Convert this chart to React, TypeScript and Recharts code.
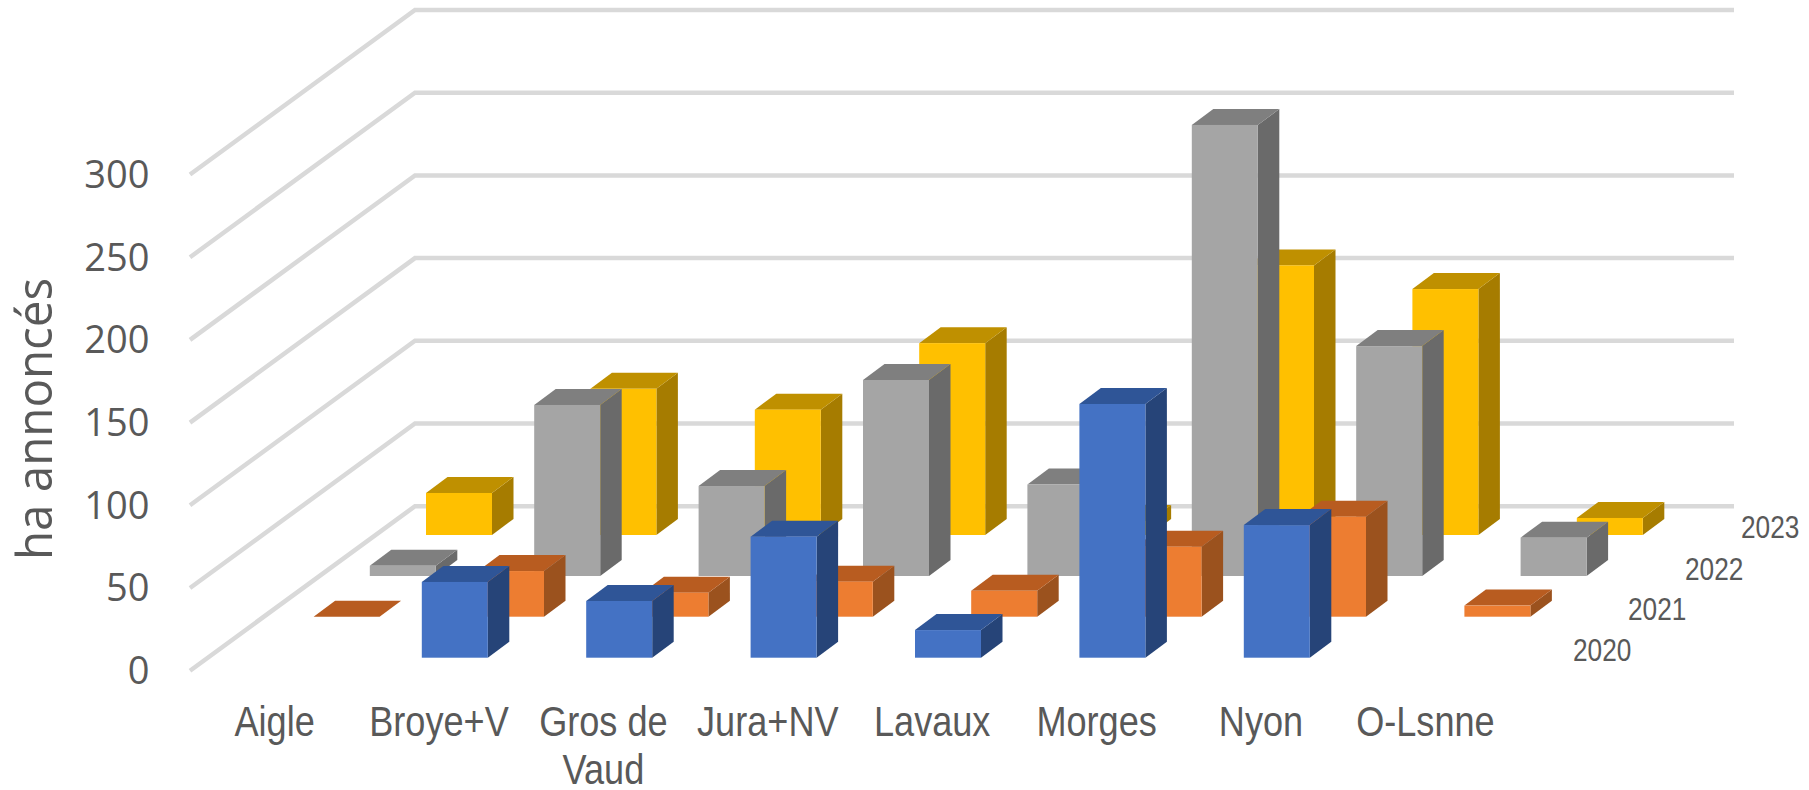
import { BarChart, Bar, XAxis, YAxis, CartesianGrid } from 'recharts';

const categories = ['Aigle', 'Broye+V', 'Gros de Vaud', 'Jura+NV', 'Lavaux', 'Morges', 'Nyon', 'O-Lsnne'];
const values2020 = [null, 45.8, 34.3, 73.2, 16.7, 153.4, 80.2, null];
const values2021 = [0, 27.6, 14.5, 21.2, 15.7, 42.3, 60.5, 6.7];
const values2022 = [6.2, 103.4, 54.4, 118.5, 55.3, 272.7, 139, 23.2];
const values2023 = [25.4, 88.4, 75.8, 116, 8.5, 163, 148.7, 10.3];
const yTicks = [0, 50, 100, 150, 200, 250, 300];

const data = categories.map((name, i) => ({
  name,
  y2020: values2020[i],
  y2021: values2021[i],
  y2022: values2022[i],
  y2023: values2023[i],
}));

// each year is a row further back on the floor of the 3D chart
const rows = [
  { key: 'y2020', label: '2020', dx: 0, dy: -13, labelX: 1573, labelY: 661, face: '#4472C4', top: '#2F5597', side: '#264478' },
  { key: 'y2021', label: '2021', dx: 56.2, dy: -54, labelX: 1628, labelY: 620, face: '#ED7D31', top: '#B85C20', side: '#9B521E' },
  { key: 'y2022', label: '2022', dx: 112.4, dy: -94.7, labelX: 1685, labelY: 580, face: '#A5A5A5', top: '#7F7F7F', side: '#6A6A6A' },
  { key: 'y2023', label: '2023', dx: 168.6, dy: -135.7, labelX: 1741, labelY: 538, face: '#FFC000', top: '#BF9000', side: '#A67C00' },
];

const BAR_W = 66;
const DEPTH_X = 21.5;
const DEPTH_Y = 16;
const WALL_X = 225;
const WALL_Y = 164.5;
const FRONT_X = 190;
const WALL_END = 1734;
const NARROW = 0.86; // no narrow font installed, so squeeze Liberation Sans

const makeBox = (row: (typeof rows)[number]) => (props: any) => {
  const { x, y, width, height, payload } = props;
  if (payload[row.key] == null) return <g />;
  const l = x + row.dx;
  const r = l + width;
  const t = y + row.dy;
  const b = t + height;
  return (
    <g>
      <polygon
        points={`${r},${t} ${r + DEPTH_X},${t - DEPTH_Y} ${r + DEPTH_X},${b - DEPTH_Y} ${r},${b}`}
        fill={row.side}
      />
      <polygon
        points={`${l},${t} ${l + DEPTH_X},${t - DEPTH_Y} ${r + DEPTH_X},${t - DEPTH_Y} ${r},${t}`}
        fill={row.top}
      />
      <rect x={l} y={t} width={width} height={height} fill={row.face} />
    </g>
  );
};

const gridLine = (props: any) => {
  const { y1, key } = props;
  return (
    <polyline
      key={key}
      points={`${FRONT_X},${y1} ${FRONT_X + WALL_X},${y1 - WALL_Y} ${WALL_END},${y1 - WALL_Y}`}
      fill="none"
      stroke="#D9D9D9"
      strokeWidth={4.5}
    />
  );
};

const CategoryTick = ({ x, payload }: any) => {
  const lines = payload.value === 'Gros de Vaud' ? ['Gros de', 'Vaud'] : [payload.value];
  return (
    <text
      transform={`translate(${x - 16},0) scale(${NARROW},1)`}
      textAnchor="middle"
      fontFamily="'Liberation Sans', sans-serif"
      fontSize={42}
      fill="#595959"
    >
      {lines.map((line: string, i: number) => (
        <tspan key={line} x={0} y={736 + i * 48}>
          {line}
        </tspan>
      ))}
    </text>
  );
};

export default function App() {
  return (
    <div style={{ position: 'absolute', left: 0, top: 0 }}>
      <BarChart
        width={1809}
        height={790}
        data={data}
        margin={{ top: 174.5, right: 285.4, bottom: 0, left: 0 }}
        barSize={BAR_W}
        barGap={-BAR_W}
      >
        <CartesianGrid vertical={false} horizontal={gridLine} />
        <XAxis
          dataKey="name"
          height={119.3}
          interval={0}
          axisLine={false}
          tickLine={false}
          tickSize={0}
          tick={<CategoryTick />}
        />
        <YAxis
          width={208.4}
          domain={[0, 300]}
          ticks={yTicks}
          interval={0}
          axisLine={false}
          tickLine={false}
          tickSize={0}
          tickMargin={59}
          tick={{ fontFamily: "'Open Sans', sans-serif", fontSize: 38, fill: '#595959' }}
        />
        {[...rows].reverse().map((row) => (
          <Bar key={row.key} dataKey={row.key} isAnimationActive={false} shape={makeBox(row)} />
        ))}
        <text
          transform="translate(52,419) rotate(-90) scale(1,1.04)"
          textAnchor="middle"
          fontFamily="'Open Sans', sans-serif"
          fontSize={47.5}
          fill="#595959"
        >
          ha annoncés
        </text>
        {rows.map((row) => (
          <text
            key={row.label}
            transform={`translate(${row.labelX},${row.labelY}) scale(0.82,1)`}
            fontFamily="'Liberation Sans', sans-serif"
            fontSize={32}
            fill="#595959"
          >
            {row.label}
          </text>
        ))}
      </BarChart>
    </div>
  );
}
